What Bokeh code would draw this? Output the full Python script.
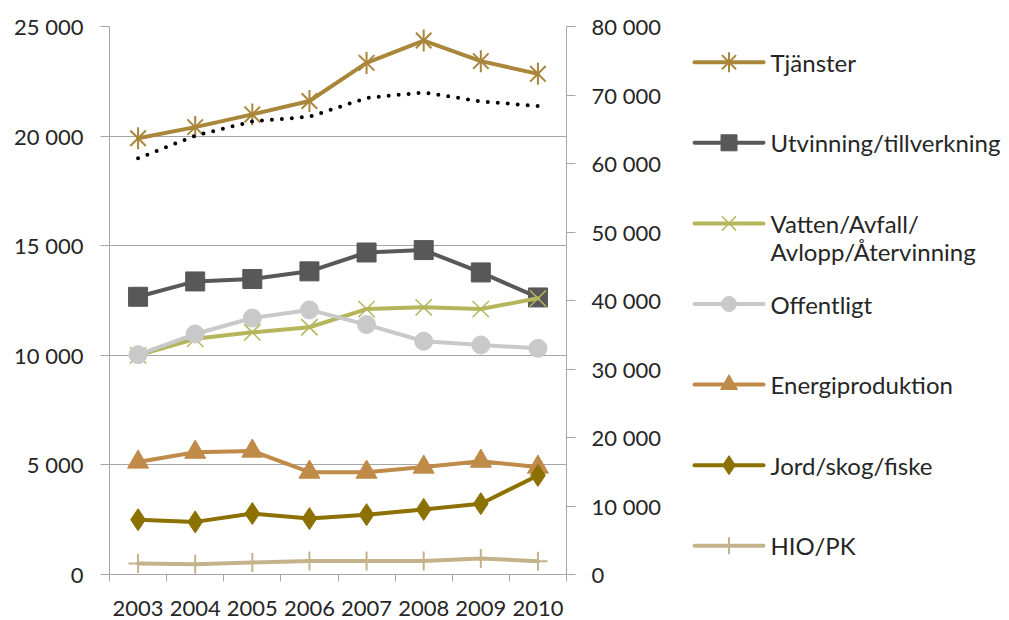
import math
from bokeh.plotting import figure
from bokeh.models import Range1d, LinearAxis, FixedTicker, CustomJSTickFormatter
from bokeh.layouts import row
from bokeh.embed import file_html
from bokeh.resources import INLINE
from bokeh.core.properties import value

# ---------------- data ----------------
years = ["2003", "2004", "2005", "2006", "2007", "2008", "2009", "2010"]
tjanster = [19900, 20410, 20990, 21600, 23340, 24360, 23420, 22840]
utvinning = [12670, 13370, 13480, 13830, 14690, 14800, 13780, 12640]
vatten = [10000, 10750, 11050, 11280, 12110, 12190, 12110, 12600]
offentligt = [10030, 10970, 11700, 12070, 11400, 10640, 10470, 10320]
energi = [5130, 5580, 5630, 4670, 4670, 4900, 5170, 4900]
jord = [2500, 2400, 2780, 2550, 2730, 2970, 3230, 4520]
hio = [500, 470, 550, 620, 620, 620, 730, 610]
totalt = [60750, 64060, 66150, 66830, 69560, 70380, 69060, 68390]  # right axis

left_ticks = [0, 5000, 10000, 15000, 20000, 25000]
right_ticks = [0, 10000, 20000, 30000, 40000, 50000, 60000, 70000, 80000]

series_names = ["Tjänster", "Utvinning/tillverkning", "Vatten/Avfall/\nAvlopp/Återvinning",
                "Offentligt", "Energiproduktion", "Jord/skog/fiske", "HIO/PK"]
series_values = [tjanster, utvinning, vatten, offentligt, energi, jord, hio]

# ---------------- styles ----------------
colors = ["#A9863A", "#585858", "#B5B55C", "#C9C9C9", "#C08A48", "#8C7000", "#C4B38A"]
# marker specs: list of (marker, angle) per series
markers = [[("x", 0), ("dash", math.pi / 2)], [("square", 0)], [("x", 0)], [("circle", 0)],
           [("triangle", 0)], [("diamond", 0)], [("cross", 0)]]
msizes = [22, 19, 23, 18, 21, 22, 19]
mlw = [2, 1, 1.5, 1, 1, 1, 2]
leg_sizes = [20, 16, 20, 15, 17, 19, 17]

FONT = "Lato"
TXT = "#262626"
GRAY = "#A6A6A6"

n = len(years)
xs = [i + 0.5 for i in range(n)]

W, H = 1009, 620
MAIN_W = 688

p = figure(width=MAIN_W, height=H, x_range=Range1d(0, n), y_range=Range1d(left_ticks[0], left_ticks[-1]),
           output_backend="svg", toolbar_location=None,
           min_border_left=109, min_border_right=MAIN_W - 566, min_border_top=26, min_border_bottom=46)
p.extra_y_ranges = {"right": Range1d(right_ticks[0], right_ticks[-1])}
p.outline_line_color = None
p.background_fill_color = "white"
p.border_fill_color = "white"

fmt = CustomJSTickFormatter(code="return Math.round(tick).toString().replace(/\\B(?=(\\d{3})+(?!\\d))/g, ' ');")

# x axis
xa = p.xaxis[0]
xa.ticker = FixedTicker(ticks=xs, minor_ticks=list(range(n + 1)))
xa.formatter = CustomJSTickFormatter(args=dict(years=years), code="return years[Math.floor(tick)];")
xa.major_tick_out = 0
xa.major_tick_in = 0
xa.minor_tick_out = 7
xa.minor_tick_in = 0
xa.minor_tick_line_color = GRAY
xa.axis_line_color = GRAY
xa.major_label_standoff = 19
xa.major_label_text_font = FONT
xa.major_label_text_font_size = "22px"
xa.major_label_text_color = TXT

# left axis
ya = p.yaxis[0]
ya.ticker = FixedTicker(ticks=left_ticks)
ya.formatter = fmt
ya.major_tick_out = 9
ya.major_tick_in = 0
ya.minor_tick_out = 0
ya.minor_tick_in = 0
ya.major_tick_line_color = GRAY
ya.axis_line_color = GRAY
ya.major_label_standoff = 17
ya.major_label_text_font = FONT
ya.major_label_text_font_size = "22px"
ya.major_label_text_color = TXT

# right axis
ra = LinearAxis(y_range_name="right", ticker=FixedTicker(ticks=right_ticks), formatter=fmt)
ra.major_tick_out = 9
ra.major_tick_in = 0
ra.minor_tick_out = 0
ra.minor_tick_in = 0
ra.major_tick_line_color = GRAY
ra.axis_line_color = GRAY
ra.major_label_standoff = 16
ra.major_label_text_font = FONT
ra.major_label_text_font_size = "22px"
ra.major_label_text_color = TXT
p.add_layout(ra, "right")

p.xgrid.visible = False
p.ygrid.grid_line_color = GRAY
p.ygrid.grid_line_width = 1

# series
for vals, c, mk, s, lw in zip(series_values, colors, markers, msizes, mlw):
    p.line(xs, vals, line_color=c, line_width=4, line_join="round", line_cap="round")
    for m, ang in mk:
        p.scatter(xs, vals, marker=m, angle=ang, size=s, fill_color=c, line_color=c, line_width=lw)

# total (dotted, right axis)
p.line(xs, totalt, y_range_name="right", line_color="black", line_width=4,
       line_dash="0 10", line_cap="round")

# ---------------- legend ----------------
# The row aligns the legend's frame with the main frame (y 26..574); ranges map to page pixels.
LW = W - MAIN_W
lg = figure(width=LW, height=H, x_range=Range1d(MAIN_W, W), y_range=Range1d(574, 26),
            output_backend="svg", toolbar_location=None, min_border=0,
            x_axis_location=None, y_axis_location=None)
lg.grid.visible = False
lg.outline_line_color = None
lg.background_fill_color = "white"
lg.border_fill_color = "white"

y_start, y_step, line_h = 61.7, 80.6, 28.3
for i, (name, c, mk, s, lw) in enumerate(zip(series_names, colors, markers, leg_sizes, mlw)):
    y0 = y_start + i * y_step
    lg.line([694, 763], [y0, y0], line_color=c, line_width=4, line_cap="round")
    for m, ang in mk:
        lg.scatter([728.5], [y0], marker=m, angle=ang, size=s, fill_color=c, line_color=c, line_width=lw)
    parts = name.split("\n")
    lg.text([770] * len(parts), [y0 + k * line_h for k in range(len(parts))], text=parts,
            text_baseline="middle", text_align="left", text_font=value(FONT),
            text_font_size="24px", text_color=TXT)

layout = row(p, lg)
open("out.html", "w").write(file_html(layout, INLINE))
